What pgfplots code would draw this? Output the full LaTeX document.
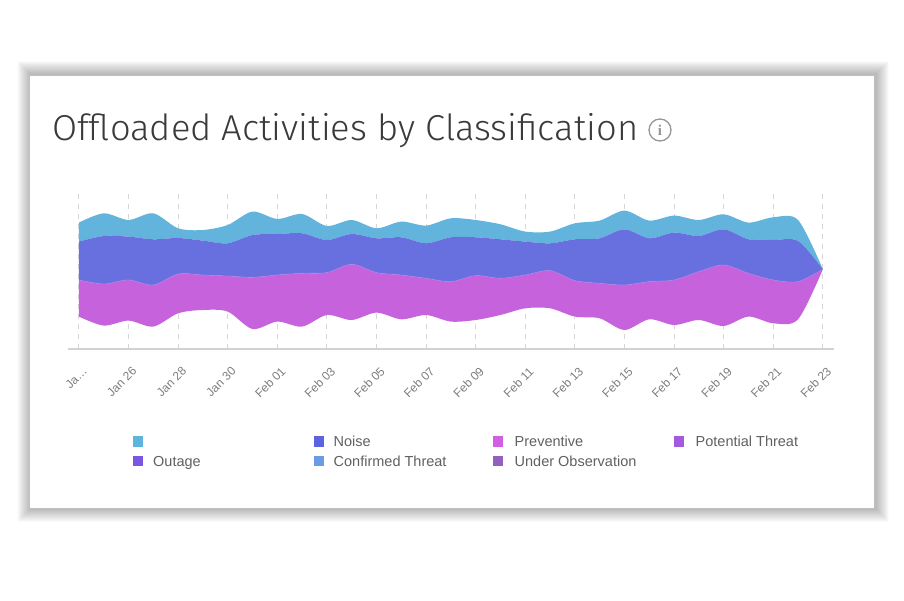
\documentclass[border=0pt]{standalone}
\usepackage{pgfplots}
\pgfplotsset{compat=1.18}
\usepgfplotslibrary{fillbetween}
\usepackage{pgfplotstable}
\usepackage{graphicx}
\usepackage{fontspec}
\setmainfont{Liberation Sans}
\newfontfamily\seriffont{Liberation Serif}
\IfFontExistsTF{Fira Sans Light}{\newfontfamily\titlefont{Fira Sans Light}}{\newfontfamily\titlefont{Liberation Sans}}
\definecolor{cblue}{RGB}{98,180,220}
\definecolor{cindigo}{RGB}{104,112,223}
\definecolor{cmag}{RGB}{199,98,221}
\definecolor{cline}{RGB}{165,130,232}
\definecolor{lgblue}{RGB}{93,181,222}
\definecolor{lgnoise}{RGB}{92,98,224}
\definecolor{lgprev}{RGB}{208,95,227}
\definecolor{lgpot}{RGB}{163,90,224}
\definecolor{lgout}{RGB}{123,86,227}
\definecolor{lgconf}{RGB}{106,156,230}
\definecolor{lgunder}{RGB}{148,96,192}
\definecolor{titlec}{RGB}{58,58,58}
\definecolor{iconc}{RGB}{150,150,150}
\definecolor{legc}{RGB}{96,96,96}
\definecolor{tickc}{RGB}{125,125,125}
\definecolor{gridc}{RGB}{215,215,215}
\definecolor{axisc}{RGB}{210,210,210}

% boundaries of the stream layers (top of blue, blue/noise, noise/preventive, bottom of preventive)
\pgfplotstableread{
day top bi im bot
0 46.7 27.7 -10.7 -47.3
1 56.0 33.3 -14.7 -56.3
2 49.3 32.7 -10.7 -51.3
3 56.0 30.0 -15.7 -57.3
4 41.0 31.3 -4.7 -44.0
5 39.3 28.7 -5.7 -40.7
6 44.3 26.0 -6.7 -42.3
7 57.7 34.3 -8.0 -59.7
8 50.3 35.3 -5.7 -52.3
9 55.3 36.0 -4.0 -57.3
10 43.3 29.3 -3.3 -45.7
11 49.3 35.3 5.0 -50.7
12 41.0 31.0 -3.3 -43.3
13 47.7 32.0 -5.7 -50.0
14 43.7 26.0 -9.0 -45.7
15 51.0 32.0 -12.3 -52.3
16 49.3 32.0 -6.3 -50.7
17 45.0 30.0 -9.0 -45.7
18 37.7 27.7 -5.7 -39.0
19 37.7 26.0 -1.3 -39.0
20 46.0 30.0 -11.3 -47.3
21 48.7 31.0 -14.0 -49.0
22 58.7 40.0 -15.7 -60.7
23 48.7 31.0 -12.3 -50.0
24 53.7 36.7 -10.7 -55.7
25 49.3 33.3 -2.3 -50.7
26 55.0 40.0 4.3 -56.7
27 46.7 30.0 -4.0 -47.3
28 52.0 29.3 -10.7 -54.0
29 49.3 28.3 -12.3 -50.0
30 0 0 0 0
}\streamdata

\begin{document}
\begin{tikzpicture}
\begin{scope}[x=1pt,y=1pt]
% page frame (no fill, so nothing covers the axis layers)
\draw[white, line width=0.1pt] (0.05,0.05) rectangle (903.95,599.95);
% card shadow as rings around the card
\foreach \i in {1,...,13} {
  \fill[black, opacity=0.024, even odd rule] ({30.5-\i},{91.5-\i}) rectangle ({875.5+\i},{525.5+\i})
     (29,92) rectangle (874,525);
}
\draw[black!25, line width=0.4pt] (29,92) rectangle (874,525);

% title
\node[anchor=base west, inner sep=0pt, text=titlec] at (52,459)
  {\resizebox{586pt}{\height}{\titlefont\fontsize{36}{40}\selectfont Offloaded Activities by Classification}};
\draw[iconc, line width=1.3pt] (660,470) circle (11);
\node[text=iconc, inner sep=0pt] at (660,470) {\seriffont\bfseries\fontsize{15}{15}\selectfont i};

% legend
\def\lgsq#1#2#3{\fill[#1] ({#2-5.25},{#3-5.25}) rectangle ++(10.5,10.5);}
\tikzset{lgt/.style={anchor=base west, inner sep=0pt, text=legc, font=\fontsize{14.5}{14.5}\selectfont}}
\lgsq{lgblue}{138}{158.3}
\lgsq{lgnoise}{319}{158.3} \node[lgt] at (333.5,153.2) {Noise};
\lgsq{lgprev}{498}{158.3} \node[lgt] at (514.5,153.2) {Preventive};
\lgsq{lgpot}{679}{158.3} \node[lgt] at (695.5,153.2) {Potential Threat};
\lgsq{lgout}{138}{139} \node[lgt] at (153,133.8) {Outage};
\lgsq{lgconf}{319}{139} \node[lgt] at (333.5,133.8) {Confirmed Threat};
\lgsq{lgunder}{498}{139} \node[lgt] at (514.5,133.8) {Under Observation};
\end{scope}

\begin{axis}[
  at={(67.5pt,251pt)}, anchor=south west,
  scale only axis, width=766.5pt, height=157.3pt,
  xmin=-0.46, xmax=30.45, ymin=-79.7, ymax=77.6,
  axis x line*=bottom, axis y line=none,
  axis line style={draw=axisc, line width=1.5pt},
  xtick={0,2,...,30},
  xticklabels={Ja\ldots, Jan 26, Jan 28, Jan 30, Feb 01, Feb 03, Feb 05, Feb 07, Feb 09, Feb 11, Feb 13, Feb 15, Feb 17, Feb 19, Feb 21, Feb 23},
  major tick length=0pt,
  xmajorgrids,
  grid style={draw=gridc, line width=1pt, dash pattern=on 5pt off 5pt},
  xticklabel style={xshift=3pt, yshift=-17pt, rotate=45, anchor=north east, inner sep=0pt,
    font=\fontsize{12}{12}\selectfont, text=tickc},
]
\addplot[name path=T, draw=none, smooth] table[x=day, y=top] {\streamdata};
\addplot[name path=B, draw=none, smooth] table[x=day, y=bi] {\streamdata};
\addplot[name path=M, draw=none, smooth] table[x=day, y=im] {\streamdata};
\addplot[name path=L, draw=none, smooth] table[x=day, y=bot] {\streamdata};
\addplot[fill=cblue, draw=none] fill between[of=T and B];
\addplot[fill=cindigo, draw=none] fill between[of=B and M];
\addplot[fill=cmag, draw=none] fill between[of=M and L];
\addplot[smooth, line width=0.7pt, color=cline, opacity=0.8] table[x=day, y=im] {\streamdata};
\end{axis}
\end{tikzpicture}
\end{document}
